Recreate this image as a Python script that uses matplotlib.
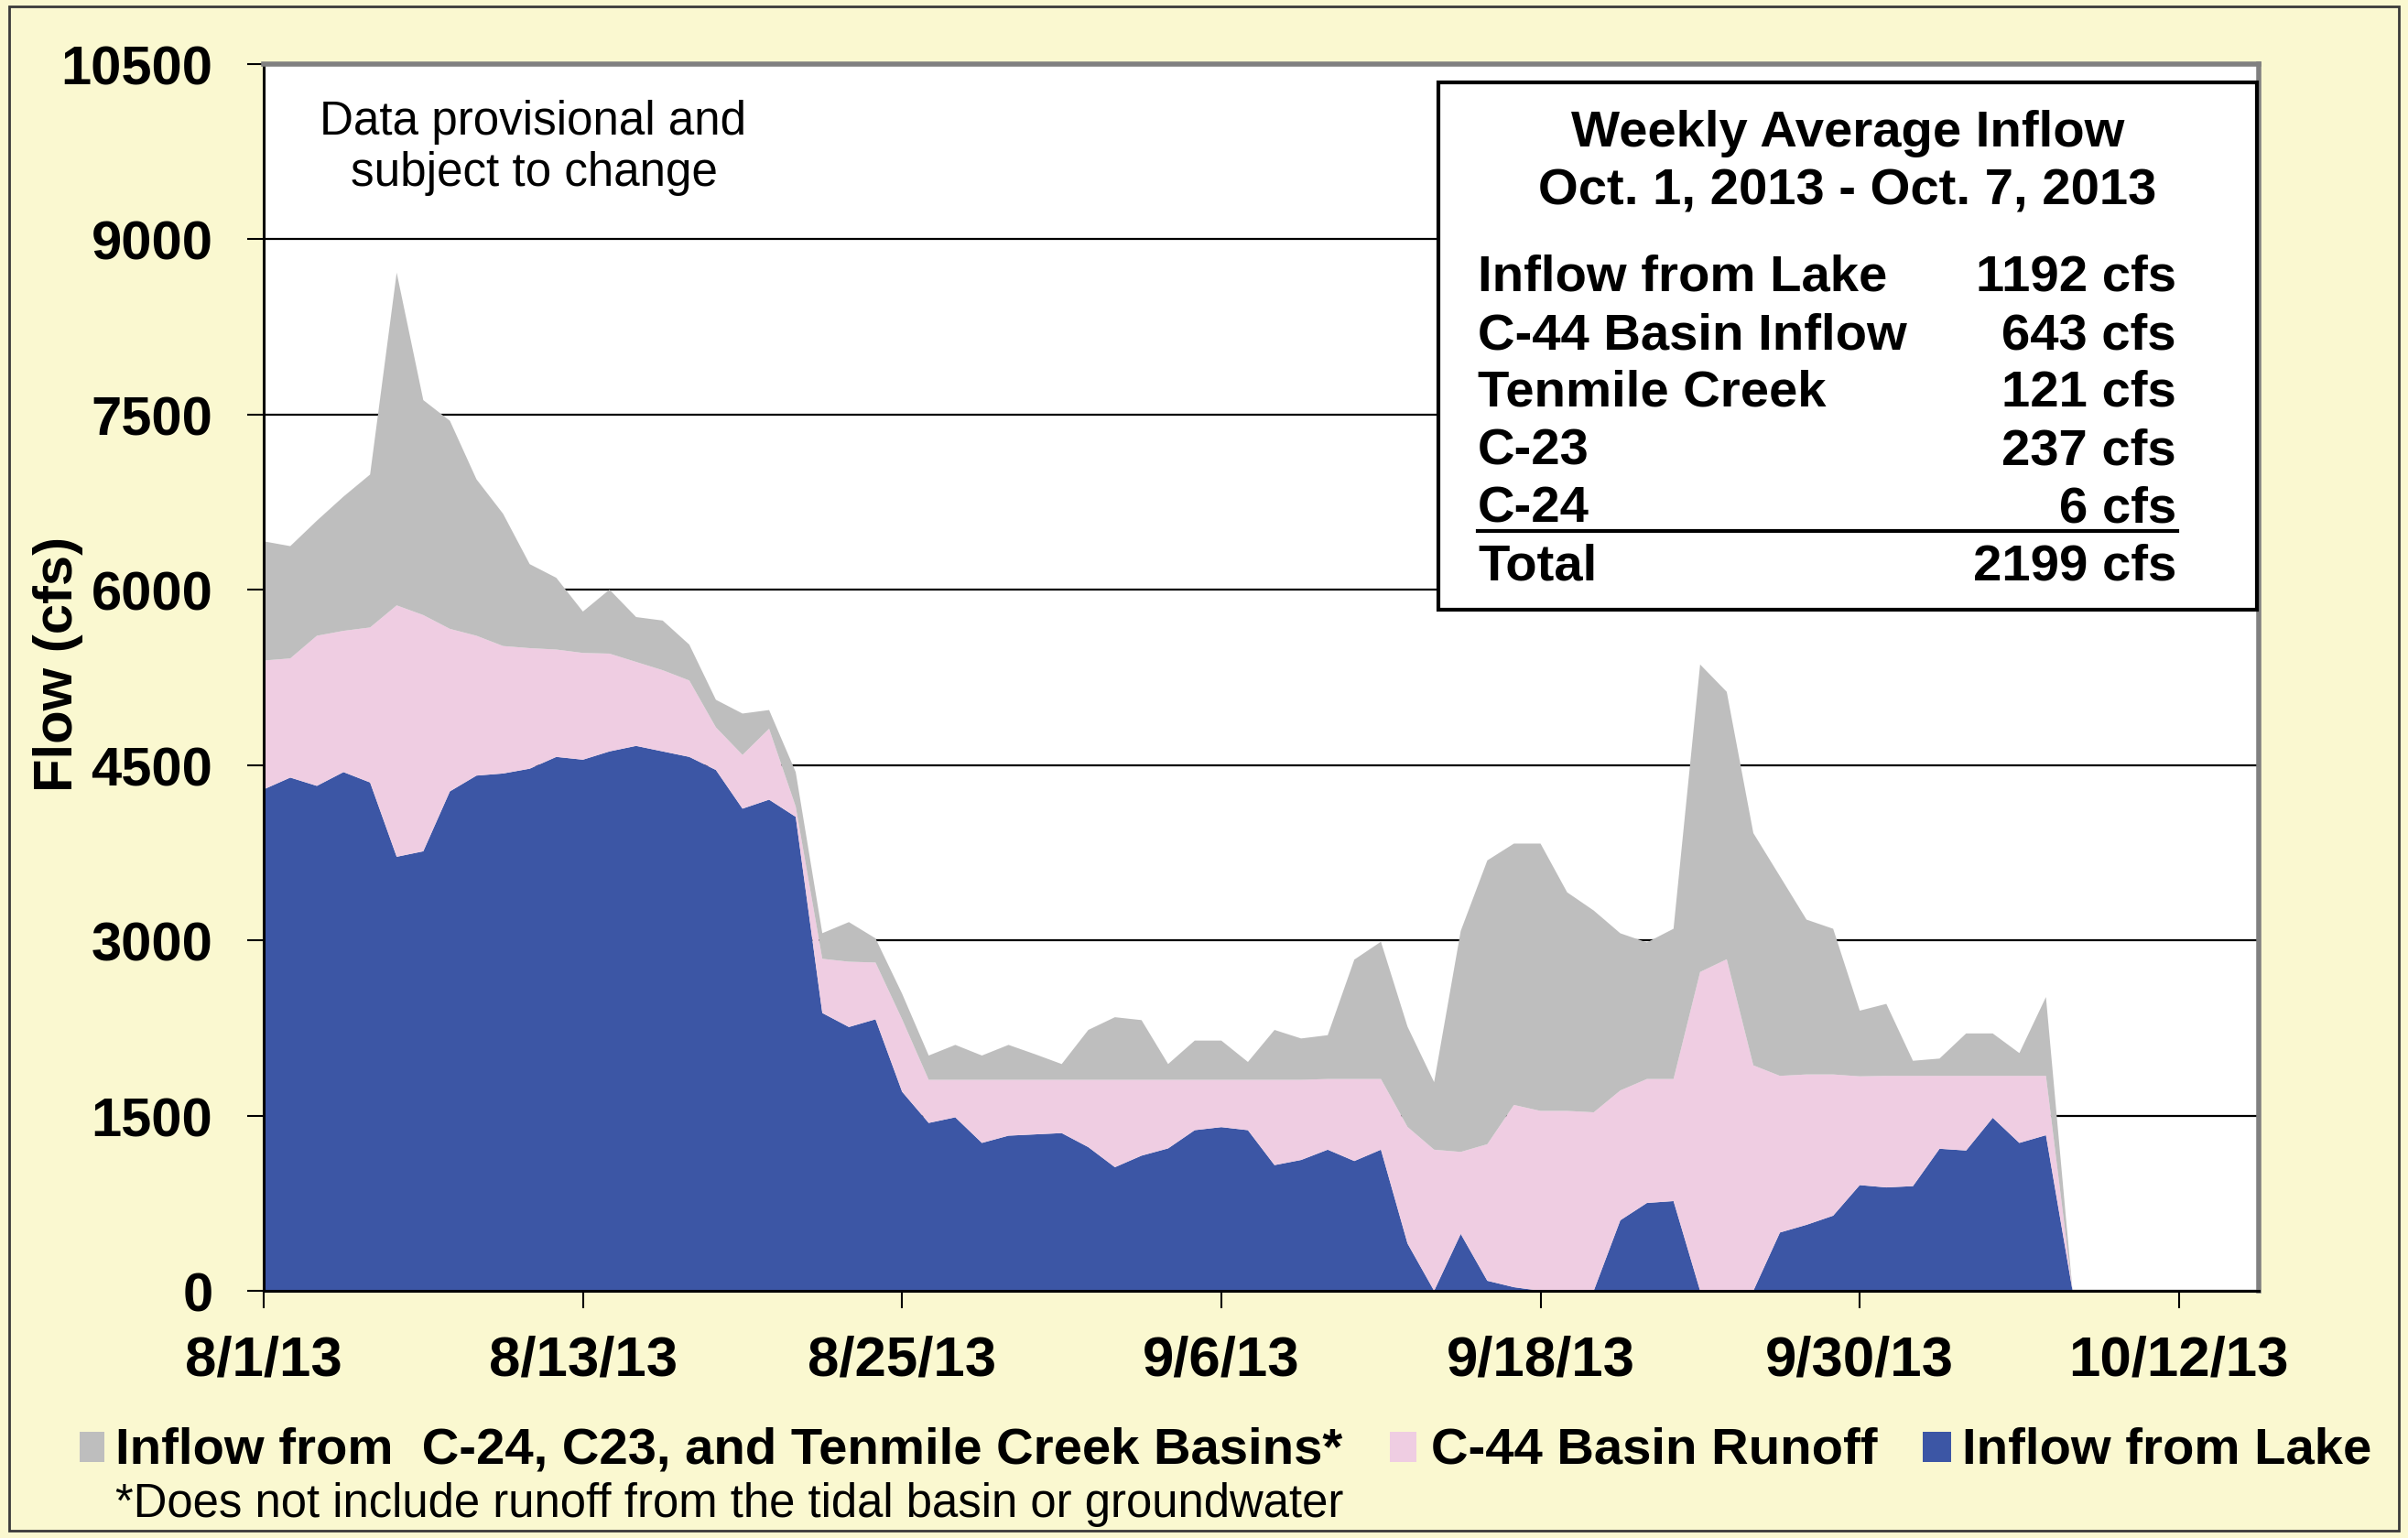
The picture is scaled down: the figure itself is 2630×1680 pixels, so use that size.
import matplotlib
matplotlib.use('Agg')
import matplotlib.pyplot as plt
import pandas as pd
from matplotlib.patches import Rectangle
from matplotlib.lines import Line2D

plt.rcParams['font.family'] = ['Liberation Sans', 'DejaVu Sans']

# ---------------- data ----------------
start_date = '2013-08-01'
n_days = 76

lake = [4292, 4393, 4322, 4440, 4351, 3715, 3762, 4275, 4410, 4428,
        4469, 4570, 4546, 4617, 4664, 4617, 4570, 4458, 4127, 4204,
        4057, 2378, 2258, 2324, 1704, 1437, 1485, 1266, 1328, 1339,
        1350, 1230, 1058, 1157, 1219, 1375, 1401, 1375, 1076, 1120,
        1208, 1111, 1208, 405, 0, 487, 86, 31, 0, 0,
        0, 604, 752, 768, 0, 0, 0, 499, 565, 643,
        905, 885, 896, 1216, 1201, 1481, 1266, 1332, 0, 0,
        0, 0, 0, 0, 0, 0]

c44 = [1103, 1020, 1285, 1209, 1327, 2152, 2022, 1391, 1197, 1091,
       1032, 919, 914, 837, 719, 695, 654, 365, 460, 607,
       88, 464, 559, 486, 620, 369, 321, 540, 478, 467,
       456, 576, 748, 649, 587, 431, 405, 431, 730, 686,
       605, 702, 605, 998, 1208, 702, 1169, 1560, 1540, 1540,
       1528, 1111, 1061, 1045, 2729, 2838, 1930, 1341, 1287, 1209,
       931, 955, 944, 624, 639, 359, 574, 508, 0, 0,
       0, 0, 0, 0, 0, 0]

basins = [1020, 961, 985, 1149, 1309, 2848, 1840, 1781, 1339, 1132,
          719, 614, 354, 548, 384, 425, 307, 236, 354, 160,
          295, 219, 339, 207, 219, 208, 299, 208, 299, 219,
          135, 427, 536, 511, 135, 336, 336, 153, 427, 354,
          375, 1022, 1175, 858, 578, 1891, 2429, 2237, 2288, 1871,
          1727, 1345, 1169, 1286, 2632, 2289, 1988, 1708, 1325, 1247,
          562, 616, 129, 148, 363, 363, 195, 675, 0, 0,
          0, 0, 0, 0, 0, 0]

series_names = ['Inflow from  C-24, C23, and Tenmile Creek Basins*',
                'C-44 Basin Runoff', 'Inflow from Lake']

tick_dates = ['2013-08-01', '2013-08-13', '2013-08-25', '2013-09-06',
              '2013-09-18', '2013-09-30', '2013-10-12']
tick_labels = ['8/1/13', '8/13/13', '8/25/13', '9/6/13', '9/18/13',
               '9/30/13', '10/12/13']
x_end = '2013-10-15'

y_ticks = [0, 1500, 3000, 4500, 6000, 7500, 9000, 10500]

box_title = ['Weekly Average Inflow', 'Oct. 1, 2013 - Oct. 7, 2013']
box_labels = ['Inflow from Lake', 'C-44 Basin Inflow', 'Tenmile Creek',
              'C-23', 'C-24', 'Total']
box_values = [1192, 643, 121, 237, 6, 2199]

note_lines = ['Data provisional and', 'subject to change']
footnote = '*Does not include runoff from the tidal basin or groundwater'

# ---------------- style ----------------
W, H = 2630, 1681
BG = '#FAF8D0'
C_LAKE = '#3C56A5'
C_C44 = '#EFCDE2'
C_BAS = '#BEBEBE'


def fx(px):
    return px / W


def fy(py):
    return 1 - py / H


fig = plt.figure(figsize=(W / 100, H / 100), dpi=100)
fig.patch.set_facecolor(BG)

# outer border
fig.add_artist(Rectangle((fx(10), fy(H - 8)), (W - 20) / W, (H - 16) / H,
                         transform=fig.transFigure, fill=False,
                         edgecolor='#3a3a3a', lw=2.0))

L, R, T, B = 288, 2467, 71, 1411
ax = fig.add_axes([fx(L), fy(B), (R - L) / W, (B - T) / H])
ax.set_facecolor('white')

dates = pd.date_range(start_date, periods=n_days, freq='D')
ax.stackplot(dates, lake, c44, basins, colors=[C_LAKE, C_C44, C_BAS],
             linewidth=0, zorder=3)

ax.set_xlim(pd.Timestamp(start_date), pd.Timestamp(x_end))
ax.set_ylim(0, 10500)
ax.set_yticks(y_ticks)
ax.set_yticklabels([str(v) for v in y_ticks])
ax.set_xticks([pd.Timestamp(d) for d in tick_dates])
ax.set_xticklabels(tick_labels)

ax.set_axisbelow(True)
ax.yaxis.grid(True, color='black', lw=1.6, zorder=1)
ax.xaxis.grid(False)

for s in ['left', 'bottom']:
    ax.spines[s].set_color('black')
    ax.spines[s].set_linewidth(2.2)
for s in ['top', 'right']:
    ax.spines[s].set_color('#808080')
    ax.spines[s].set_linewidth(4.0)
for s in ax.spines.values():
    s.set_zorder(5)

ax.tick_params(axis='y', direction='out', length=13, width=1.5, pad=27,
               labelsize=43, colors='black')
ax.tick_params(axis='x', direction='out', length=14, width=1.5, pad=20,
               labelsize=44.5, colors='black')
for lab in ax.get_yticklabels() + ax.get_xticklabels():
    lab.set_fontweight('bold')

# y axis title
fig.text(fx(64), fy(725), 'Flow (cfs)', rotation=90, ha='center', va='center',
         fontsize=43, fontweight='bold')

# provisional note
NOTE_FS = 36.8
fig.text(fx(582), fy(133), note_lines[0], ha='center', va='center', fontsize=NOTE_FS)
fig.text(fx(583), fy(190), note_lines[1], ha='center', va='center', fontsize=NOTE_FS)

# summary box
BOX_FS = 40.5
bx0, bx1, by0, by1 = 1571, 2465, 91, 667
fig.add_artist(Rectangle((fx(bx0), fy(by1)), (bx1 - bx0) / W, (by1 - by0) / H,
                         transform=fig.transFigure, facecolor='white',
                         edgecolor='black', lw=3.0, zorder=10))
fig.text(fx(2018), fy(146), box_title[0], ha='center', va='center',
         fontsize=BOX_FS, fontweight='bold', zorder=11)
fig.text(fx(2018), fy(209), box_title[1], ha='center', va='center',
         fontsize=BOX_FS, fontweight='bold', zorder=11)
row_y = [303, 367, 430, 494, 557, 620]
for yy, lab, val in zip(row_y, box_labels, box_values):
    fig.text(fx(1614), fy(yy), lab, ha='left', va='center', fontsize=BOX_FS,
             fontweight='bold', zorder=11)
    fig.text(fx(2377), fy(yy), f'{val} cfs', ha='right', va='center',
             fontsize=BOX_FS, fontweight='bold', zorder=11)
fig.add_artist(Line2D([fx(1614), fx(2378)], [fy(581), fy(581)],
                      transform=fig.transFigure, color='black', lw=3.0,
                      zorder=11))

# legend
LEG_FS = 40.5
leg_y = 1582
patches = [(87, 114, C_BAS, 126), (1518, 1547, C_C44, 1563),
           (2100, 2131, C_LAKE, 2143)]
for (p0, p1, col, tx), name in zip(patches, series_names):
    fig.add_artist(Rectangle((fx(p0), fy(1598)), (p1 - p0) / W, 33 / H,
                             transform=fig.transFigure, facecolor=col,
                             edgecolor='none'))
    fig.text(fx(tx), fy(leg_y + 3), name, ha='left', va='center',
             fontsize=LEG_FS, fontweight='bold')

fig.text(fx(126), fy(1644), footnote, ha='left', va='center', fontsize=36.6)

fig.savefig('out.png', dpi=100, facecolor=BG)
